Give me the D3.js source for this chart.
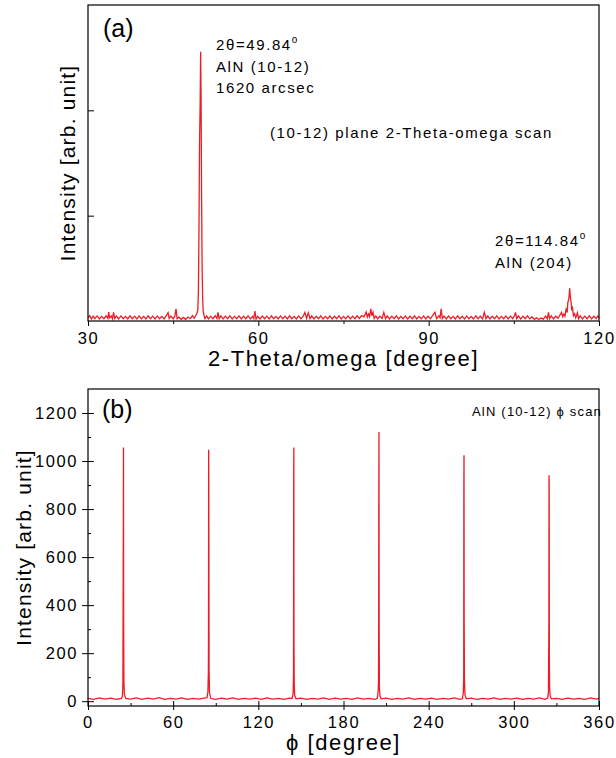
<!DOCTYPE html>
<html>
<head>
<meta charset="utf-8">
<script src="https://cdn.jsdelivr.net/npm/d3@7"></script>
<style>
  body { margin: 0; background: #fff; }
  svg text { font-family: "Liberation Sans", Arial, sans-serif; fill: #000; }
</style>
</head>
<body>
<div id="chart"></div>
<script>
// (a) 2-theta/omega scan, [2theta in degree, counts]
const scanA = [
  [30.0,30],[30.3,50],[30.6,20],[30.9,46],[31.2,22],[31.6,48],[32.0,20],[32.4,44],[32.8,22],[33.2,50],
  [33.5,24],[33.65,85],[33.8,30],[34.1,48],[34.3,20],[34.5,82],[34.7,24],[35.0,46],[35.4,20],[35.8,48],
  [36.2,22],[36.6,44],[37.0,20],[37.4,50],[37.8,22],[38.2,46],[38.6,20],[39.0,48],[39.4,22],[39.8,44],
  [40.2,20],[40.6,50],[41.0,22],[41.4,46],[41.8,20],[42.2,48],[42.6,22],[43.0,44],[43.4,20],[43.8,50],
  [44.1,80],[44.3,24],[44.6,46],[45.0,20],[45.3,48],[45.5,115],[45.7,22],[46.0,36],[46.4,16],[46.8,34],
  [47.2,16],[47.6,38],[48.0,22],[48.4,50],[48.7,26],[49.0,55],[49.2,75],[49.35,110],[49.45,300],
  [49.55,900],[49.65,1700],[49.75,2050],[49.84,2555],[49.92,2100],[50.0,1200],[50.1,500],[50.2,200],
  [50.3,90],[50.45,50],[50.6,22],[50.9,48],[51.2,20],[51.6,46],[52.0,22],[52.4,50],[52.7,24],[52.9,82],
  [53.1,22],[53.4,48],[53.8,20],[54.2,46],[54.6,22],[55.0,50],[55.4,20],[55.8,44],[56.2,22],[56.6,48],
  [57.0,20],[57.4,46],[57.8,22],[58.2,50],[58.6,20],[59.0,44],[59.2,24],[59.4,95],[59.6,18],[59.9,44],
  [60.3,20],[60.7,48],[61.1,22],[61.5,46],[61.9,20],[62.3,50],[62.7,22],[63.1,44],[63.5,20],[63.9,48],
  [64.3,22],[64.7,46],[65.1,20],[65.5,50],[65.9,22],[66.3,44],[66.7,20],[67.1,48],[67.5,22],[67.9,46],
  [68.2,82],[68.5,24],[68.8,78],[69.1,22],[69.4,48],[69.8,20],[70.2,46],[70.6,22],[71.0,50],[71.4,20],
  [71.8,44],[72.2,22],[72.6,48],[73.0,20],[73.4,46],[73.8,22],[74.2,50],[74.6,20],[75.0,44],[75.4,22],
  [75.8,48],[76.2,20],[76.6,46],[77.0,22],[77.4,50],[77.8,24],[78.2,52],[78.6,40],[79.0,85],[79.2,38],
  [79.4,66],[79.6,40],[79.8,115],[80.0,50],[80.2,82],[80.4,24],[80.7,48],[81.0,20],[81.4,46],[81.8,24],
  [82.1,82],[82.4,22],[82.7,48],[83.1,20],[83.5,46],[83.9,22],[84.3,50],[84.7,20],[85.1,44],[85.5,22],
  [85.9,48],[86.3,20],[86.7,46],[87.1,22],[87.5,50],[87.9,20],[88.3,44],[88.7,22],[89.1,48],[89.5,20],
  [89.9,46],[90.3,22],[90.7,50],[91.1,82],[91.4,22],[91.8,48],[92.0,30],[92.2,115],[92.4,24],[92.7,46],
  [93.1,20],[93.5,48],[93.9,22],[94.3,44],[94.7,20],[95.1,50],[95.5,22],[95.9,46],[96.3,20],[96.7,48],
  [97.1,22],[97.5,44],[97.9,20],[98.3,50],[98.7,22],[99.1,46],[99.5,20],[99.8,82],[100.1,22],[100.4,48],
  [100.8,20],[101.2,46],[101.6,22],[102.0,50],[102.4,20],[102.8,44],[103.2,22],[103.6,48],[104.0,20],
  [104.4,46],[104.8,22],[105.1,50],[105.3,82],[105.5,22],[105.8,48],[106.2,20],[106.6,46],[107.0,22],
  [107.4,50],[107.8,20],[108.2,40],[108.6,16],[109.0,30],[109.4,14],[109.8,28],[110.2,18],[110.6,46],
  [110.9,22],[111.1,82],[111.3,22],[111.6,48],[112.0,20],[112.4,46],[112.8,26],[113.1,55],[113.4,82],
  [113.6,40],[113.8,66],[114.0,45],[114.2,110],[114.4,80],[114.5,170],[114.7,218],[114.84,310],
  [114.95,230],[115.1,170],[115.2,100],[115.3,140],[115.5,50],[115.7,70],[115.9,30],[116.2,78],
  [116.4,22],[116.7,48],[117.1,20],[117.5,46],[117.9,22],[118.3,50],[118.7,20],[119.1,46],[119.5,22],
  [119.8,48],[120.0,30]
];

// (b) phi scan, [phi in degree, counts]
const scanB = [
  [0,12],[4,8],[8,14],[12,9],[16,13],[20,8],[23.5,12],[24.2,20],[24.6,70],[24.8,580],[24.9,735],[25.0,1056],
  [25.1,320],[25.3,85],[25.6,30],[26.5,12],[30,9],[34,14],[38,8],[42,13],[46,9],[50,15],[54,8],[58,12],
  [62,9],[66,14],[70,8],[74,12],[78,9],[82,13],[83.8,15],[84.5,40],[84.8,120],[84.9,300],[85.0,1047],
  [85.1,905],[85.3,130],[85.6,35],[86.5,12],[90,8],[94,13],[98,9],[102,14],[106,8],[110,12],[114,9],
  [118,13],[122,8],[126,14],[130,9],[134,12],[138,8],[142,13],[143.8,12],[144.5,30],[144.8,110],
  [144.9,880],[145.0,1056],[145.1,250],[145.3,70],[145.6,25],[146.5,10],[150,13],[154,8],[158,12],
  [162,9],[166,14],[170,8],[174,13],[178,9],[182,12],[186,8],[190,14],[194,9],[198,12],[202,8],
  [203.8,12],[204.4,40],[204.7,87],[204.8,458],[204.9,906],[205.0,1121],[205.1,300],[205.3,60],
  [205.7,20],[206.5,10],[210,13],[214,8],[218,12],[222,9],[226,14],[230,8],[234,12],[238,9],[242,13],
  [246,8],[250,12],[254,9],[258,14],[262,8],[263.8,11],[264.4,35],[264.7,100],[264.8,894],[264.9,1024],
  [265.0,350],[265.2,90],[265.6,25],[266.5,10],[270,13],[274,8],[278,12],[282,9],[286,14],[290,8],
  [294,12],[298,9],[302,13],[306,8],[310,12],[314,9],[318,14],[322,8],[323.8,13],[324.4,40],[324.7,330],
  [324.8,941],[324.9,892],[325.0,200],[325.2,60],[325.6,20],[326.5,10],[330,12],[334,8],[338,13],
  [342,9],[346,12],[350,8],[354,14],[358,9],[360,12]
];

const ticksAx = [30, 60, 90, 120], minorAx = [45, 75, 105];
const ticksAy = [1000, 2000], ticksBx = [0, 60, 120, 180, 240, 300, 360];
const minorBx = [30, 90, 150, 210, 270, 330];
const ticksBy = [0, 200, 400, 600, 800, 1000, 1200];
const minorBy = [100, 300, 500, 700, 900, 1100];

const lineColor = "#ee1c25";

let svg = d3.select("#chart")
    .append("svg")
    .attr("width", 616)
    .attr("height", 758);

let boxA = {left: 88, right: 599, top: 5, bottom: 321};
let boxB = {left: 88, right: 599, top: 389, bottom: 706};

let xA = d3.scaleLinear().domain([30, 120]).range([boxA.left, boxA.right]);
let yA = d3.scaleLinear().domain([0, 3000]).range([boxA.bottom, boxA.top]);
let xB = d3.scaleLinear().domain([0, 360]).range([boxB.left, boxB.right]);
let yB = d3.scaleLinear().domain([-20, 1300]).range([boxB.bottom, boxB.top]);

function drawFrame(box) {
  svg.append("rect")
      .attr("x", box.left).attr("y", box.top)
      .attr("width", box.right - box.left)
      .attr("height", box.bottom - box.top)
      .attr("fill", "none")
      .attr("stroke", "#000")
      .attr("stroke-width", 1.2);
}

function tickAxis(axis, y, values, size, labels) {
  let g = svg.append("g")
      .attr("transform", `translate(0,${y})`)
      .call(axis.tickValues(values).tickSize(size).tickPadding(6)
          .tickFormat(labels ? d3.format("d") : ""));
  g.select(".domain").remove();
  g.selectAll("line").attr("stroke", "#000");
  g.selectAll("text")
      .attr("font-size", 16.5)
      .attr("letter-spacing", 1.6)
      .attr("fill", "#000")
      .attr("font-family", "Liberation Sans, Arial, sans-serif");
  return g;
}

// ---- panel (a)
let lineA = d3.line().x(d => xA(d[0])).y(d => yA(d[1]));
svg.append("path")
    .datum(scanA)
    .attr("d", lineA)
    .attr("fill", "none")
    .attr("stroke", lineColor)
    .attr("stroke-width", 1.3);

drawFrame(boxA);
tickAxis(d3.axisBottom(xA), boxA.bottom, ticksAx, 5, true);
tickAxis(d3.axisBottom(xA), boxA.bottom, minorAx, 3, false);
svg.append("g")
    .attr("transform", `translate(${boxA.left},0)`)
    .call(d3.axisLeft(yA).tickValues(ticksAy).tickSize(-6).tickFormat(""))
    .call(g => g.select(".domain").remove());

svg.append("text").attr("x", 103).attr("y", 37)
    .attr("font-size", 25).text("(a)");

function degText(x, y, before, after) {
  let t = svg.append("text").attr("x", x).attr("y", y)
      .attr("font-size", 15).attr("letter-spacing", 1.6);
  t.append("tspan").text(before);
  t.append("tspan").attr("dy", -7).attr("font-size", 10).text(after);
  return t;
}

degText(216, 50, "2\u03b8=49.84", "o");
svg.append("text").attr("x", 216).attr("y", 72)
    .attr("font-size", 15).attr("letter-spacing", 1.6).text("AlN (10-12)");
svg.append("text").attr("x", 216).attr("y", 93)
    .attr("font-size", 15).attr("letter-spacing", 1.6).text("1620 arcsec");
svg.append("text").attr("x", 270).attr("y", 138)
    .attr("font-size", 15).attr("letter-spacing", 1.6).text("(10-12) plane 2-Theta-omega scan");
degText(495, 246, "2\u03b8=114.84", "o");
svg.append("text").attr("x", 495).attr("y", 268)
    .attr("font-size", 15).attr("letter-spacing", 1.6).text("AlN (204)");

svg.append("text")
    .attr("transform", `translate(75,${(boxA.top + boxA.bottom) / 2}) rotate(-90)`)
    .attr("text-anchor", "middle")
    .attr("font-size", 21).attr("letter-spacing", 1.2)
    .text("Intensity [arb. unit]");
svg.append("text")
    .attr("x", (boxA.left + boxA.right) / 2).attr("y", 366)
    .attr("text-anchor", "middle")
    .attr("font-size", 22).attr("letter-spacing", 1.6)
    .text("2-Theta/omega [degree]");

// ---- panel (b)
let lineB = d3.line().x(d => xB(d[0])).y(d => yB(d[1]));
svg.append("path")
    .datum(scanB)
    .attr("d", lineB)
    .attr("fill", "none")
    .attr("stroke", lineColor)
    .attr("stroke-width", 1.3);

drawFrame(boxB);
tickAxis(d3.axisBottom(xB), boxB.bottom, ticksBx, 4, true);
tickAxis(d3.axisBottom(xB), boxB.bottom, ticksBx, -5, false);
tickAxis(d3.axisBottom(xB), boxB.bottom, minorBx, -3, false);

let yAxisB = svg.append("g")
    .attr("transform", `translate(${boxB.left},0)`)
    .call(d3.axisLeft(yB).tickValues(ticksBy).tickSize(6).tickPadding(4)
        .tickFormat(d3.format("d")));
yAxisB.select(".domain").remove();
yAxisB.selectAll("text")
    .attr("font-size", 16.5).attr("letter-spacing", 1.6)
    .attr("font-family", "Liberation Sans, Arial, sans-serif");
svg.append("g")
    .attr("transform", `translate(${boxB.left},0)`)
    .call(d3.axisLeft(yB).tickValues(ticksBy).tickSize(-6).tickFormat(""))
    .call(g => g.select(".domain").remove());
svg.append("g")
    .attr("transform", `translate(${boxB.left},0)`)
    .call(d3.axisLeft(yB).tickValues(minorBy).tickSize(-3).tickFormat(""))
    .call(g => g.select(".domain").remove());

svg.append("text").attr("x", 102).attr("y", 418)
    .attr("font-size", 25).text("(b)");
svg.append("text").attr("x", 472).attr("y", 416)
    .attr("font-size", 13).attr("letter-spacing", 1.2)
    .text("AlN (10-12) \u03d5 scan");

svg.append("text")
    .attr("transform", `translate(31,${(boxB.top + boxB.bottom) / 2}) rotate(-90)`)
    .attr("text-anchor", "middle")
    .attr("font-size", 21).attr("letter-spacing", 1.2)
    .text("Intensity [arb. unit]");
svg.append("text")
    .attr("x", (boxB.left + boxB.right) / 2).attr("y", 750)
    .attr("text-anchor", "middle")
    .attr("font-size", 22).attr("letter-spacing", 1.6)
    .text("\u03d5 [degree]");
</script>
</body>
</html>
